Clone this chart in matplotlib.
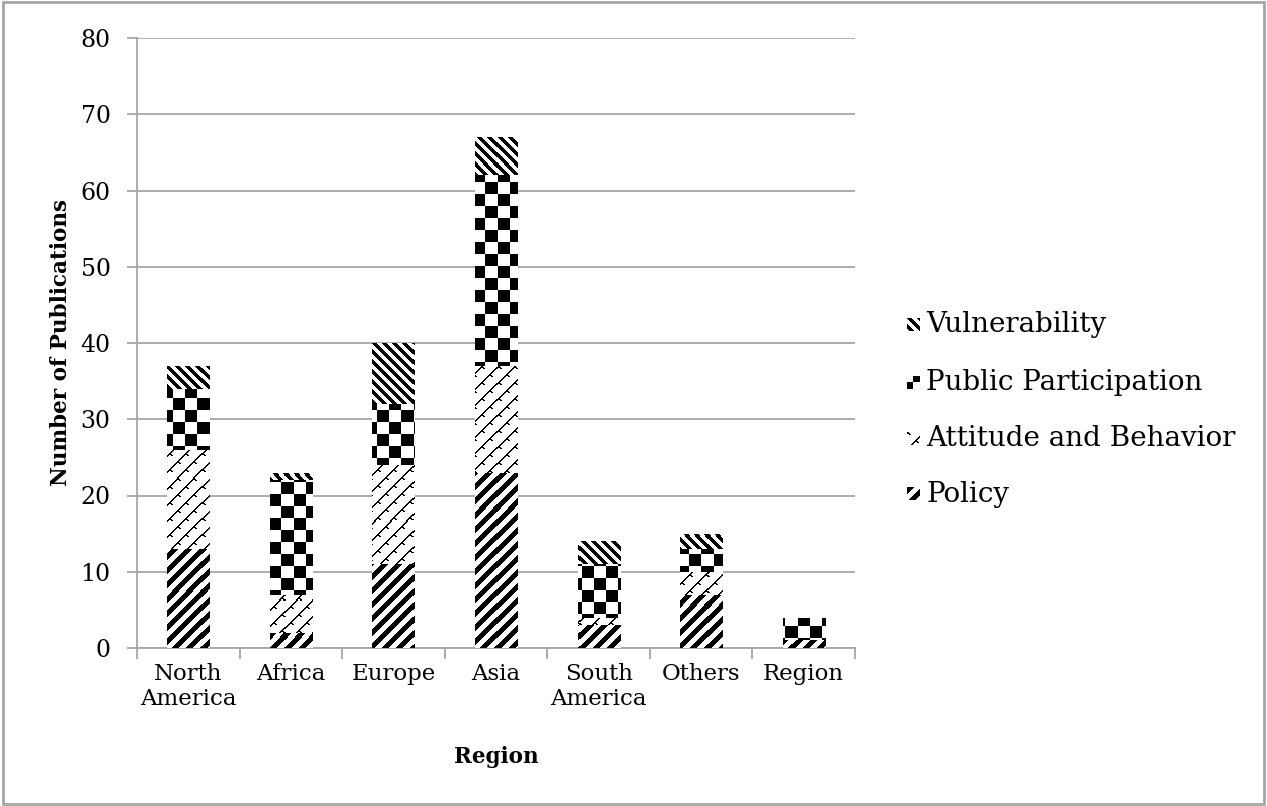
import numpy as np
import matplotlib
matplotlib.use("Agg")
import matplotlib.pyplot as plt
from matplotlib.patches import Rectangle

# --- Data ---
regions = ["North\nAmerica", "Africa", "Europe", "Asia", "South\nAmerica", "Others", "Region"]
policy = [13, 2, 11, 23, 3, 7, 1]
attitude = [13, 5, 13, 14, 1, 3, 0]
public = [8, 15, 8, 25, 7, 3, 3]
vulnerability = [3, 1, 8, 5, 3, 2, 0]

series_names = ["Policy", "Attitude and Behavior", "Public Participation", "Vulnerability"]
series_values = [policy, attitude, public, vulnerability]

GRID = "#a6a6a6"
plt.rcParams["font.family"] = "DejaVu Serif"


# --- Fill patterns (1 = black pixel) ---
def make_pattern(kind, h, w, off=0):
    yy, xx = np.mgrid[0:h, 0:w]
    xx = xx + off
    yy = yy + off
    if kind == "Policy":
        return (((xx + yy) % 14) < 7).astype(float)
    if kind == "Vulnerability":
        return (((xx - yy) % 10) < 5).astype(float)
    if kind == "Public Participation":
        return ((xx // 12 + yy // 12) % 2).astype(float)
    # woven zigzag lattice
    u = (xx + yy) % 16
    v = (xx - yy) % 16
    return ((u <= 1) | ((v <= 1) & (u < 6))).astype(float)


fig = plt.figure(figsize=(12.67, 8.06), dpi=100)
fig.patches.append(Rectangle((0.002, 0.003), 0.996, 0.994, transform=fig.transFigure,
                             fill=False, edgecolor=GRID, linewidth=2))

left, right, top, bottom = 137, 855, 38, 648
ax = fig.add_axes([left / 1267, 1 - bottom / 806, (right - left) / 1267, (bottom - top) / 806])
W, H = right - left, bottom - top

x = np.arange(len(regions))
xlim = (-0.5, len(regions) - 0.5)
ylim = (0, 80)

base = np.zeros(len(regions))
for name, vals in zip(series_names, series_values):
    bars = ax.bar(x, vals, width=0.41, bottom=base, color="white", edgecolor="none", zorder=2)
    pat = make_pattern(name, H, W)
    for b in bars:
        if b.get_height() == 0:
            continue
        im = ax.imshow(pat, extent=(*xlim, *ylim), cmap="binary", vmin=0, vmax=1,
                       interpolation="nearest", aspect="auto", origin="upper", zorder=3)
        im.set_clip_path(b)
    base += np.array(vals)

ax.set_xlim(*xlim)
ax.set_ylim(*ylim)

# axes styling
ax.set_yticks(np.arange(0, 81, 10))
ax.yaxis.grid(True, color=GRID, linewidth=1.3)
ax.set_axisbelow(True)
for s in ["top", "right"]:
    ax.spines[s].set_visible(False)
for s in ["left", "bottom"]:
    ax.spines[s].set_color(GRID)
    ax.spines[s].set_linewidth(1.3)
ax.tick_params(axis="y", colors=GRID, length=7, width=1.3, labelcolor="black", labelsize=17, pad=12)
ax.set_xticks(x)
ax.set_xticklabels(regions, fontsize=16.5, linespacing=1.15)
ax.tick_params(axis="x", length=0, pad=11)
ax.set_xticks(np.arange(-0.5, len(regions), 1), minor=True)
ax.tick_params(axis="x", which="minor", colors=GRID, length=8, width=1.3)

ax.set_ylabel("Number of Publications", fontsize=15.5, fontweight="bold", labelpad=6)
ax.set_xlabel("Region", fontsize=15.5, fontweight="bold", labelpad=26)

# legend, drawn top to bottom in reverse stacking order
row_y = [325, 383, 439, 494]
for yc, name in zip(row_y, series_names[::-1]):
    icon = fig.add_axes([907 / 1267, 1 - (yc + 6) / 806, 13 / 1267, 13 / 806])
    icon.imshow(make_pattern(name, 13, 13, off=6 if name == "Public Participation" else 0),
                cmap="binary", vmin=0, vmax=1, interpolation="nearest", aspect="auto")
    icon.axis("off")
    fig.text(926 / 1267, 1 - yc / 806, name, fontsize=20, va="center", ha="left")

fig.savefig("out.png", dpi=100)
